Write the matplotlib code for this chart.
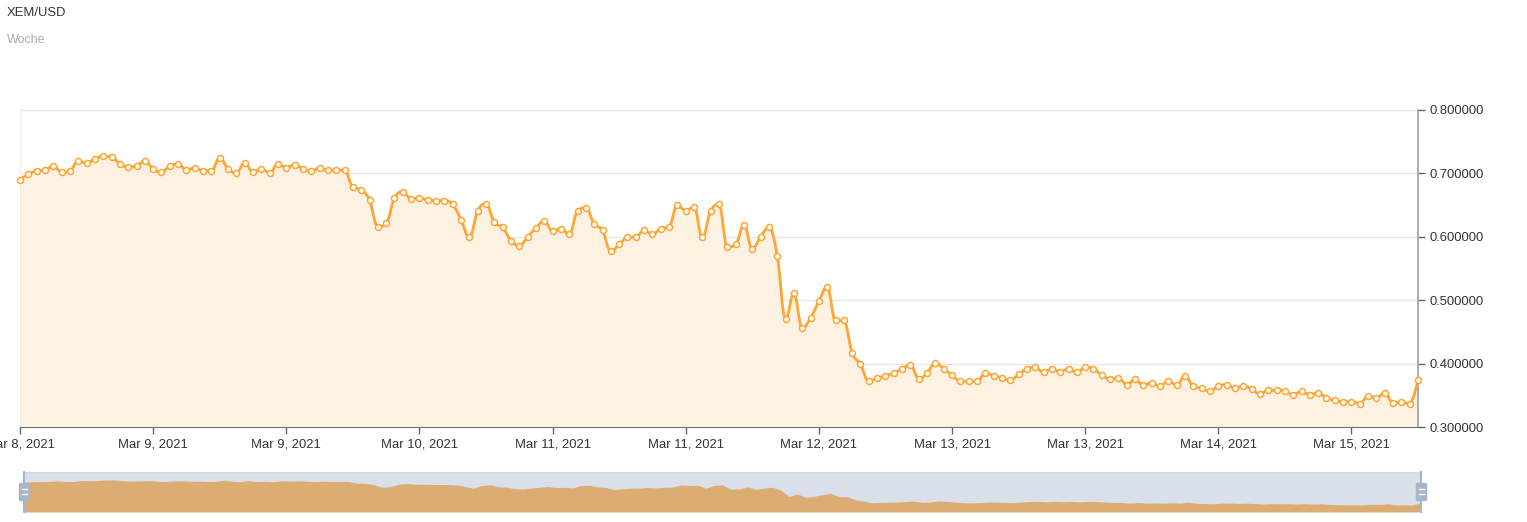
import matplotlib
matplotlib.use("Agg")
import matplotlib.pyplot as plt
from matplotlib.path import Path
from matplotlib.patches import PathPatch, Rectangle
import numpy as np

plt.rcParams['font.family'] = ['Liberation Sans', 'DejaVu Sans']

# hourly XEM/USD prices, one week
prices = [
    0.690, 0.699, 0.704, 0.705, 0.712, 0.702, 0.704, 0.720, 0.716, 0.723,
    0.727, 0.726, 0.715, 0.710, 0.712, 0.720, 0.707, 0.702, 0.712, 0.715,
    0.705, 0.709, 0.704, 0.704, 0.725, 0.707, 0.701, 0.717, 0.702, 0.707,
    0.701, 0.715, 0.709, 0.714, 0.707, 0.703, 0.709, 0.705, 0.705, 0.705,
    0.678, 0.674, 0.658, 0.616, 0.621, 0.661, 0.671, 0.660, 0.661, 0.658,
    0.657, 0.657, 0.651, 0.627, 0.599, 0.641, 0.652, 0.623, 0.615, 0.594,
    0.586, 0.600, 0.614, 0.625, 0.609, 0.613, 0.604, 0.641, 0.646, 0.620,
    0.610, 0.577, 0.588, 0.599, 0.600, 0.610, 0.604, 0.613, 0.616, 0.650,
    0.641, 0.647, 0.599, 0.641, 0.651, 0.584, 0.588, 0.619, 0.581, 0.600,
    0.615, 0.570, 0.470, 0.511, 0.456, 0.472, 0.498, 0.521, 0.468, 0.468,
    0.417, 0.399, 0.372, 0.377, 0.381, 0.385, 0.392, 0.398, 0.376, 0.385,
    0.401, 0.392, 0.382, 0.372, 0.372, 0.372, 0.385, 0.381, 0.378, 0.374,
    0.383, 0.392, 0.394, 0.386, 0.392, 0.387, 0.392, 0.386, 0.394, 0.392,
    0.382, 0.376, 0.377, 0.367, 0.375, 0.366, 0.370, 0.364, 0.373, 0.366,
    0.381, 0.364, 0.361, 0.356, 0.365, 0.367, 0.361, 0.365, 0.360, 0.352,
    0.358, 0.358, 0.356, 0.351, 0.356, 0.351, 0.354, 0.346, 0.342, 0.340,
    0.340, 0.337, 0.349, 0.346, 0.354, 0.338, 0.339, 0.337, 0.374,
]
hours = np.arange(len(prices))

tick_hours = [0, 16, 32, 48, 64, 80, 96, 112, 128, 144, 160]
tick_labels = ["Mar 8, 2021", "Mar 9, 2021", "Mar 9, 2021", "Mar 10, 2021",
               "Mar 11, 2021", "Mar 11, 2021", "Mar 12, 2021", "Mar 13, 2021",
               "Mar 13, 2021", "Mar 14, 2021", "Mar 15, 2021"]
y_ticks = [0.3, 0.4, 0.5, 0.6, 0.7, 0.8]

ORANGE = '#ffa534'
FILL = '#fdf1e2'


def spline_path(x, y, smoothing=1.5):
    # highcharts-style spline through the points
    n = len(x)
    left = [None] * n
    right = [None] * n
    d = smoothing + 1
    for i in range(n):
        if i == 0 or i == n - 1:
            left[i] = (x[i], y[i])
            right[i] = (x[i], y[i])
            continue
        lx = (smoothing * x[i] + x[i - 1]) / d
        ly = (smoothing * y[i] + y[i - 1]) / d
        rx = (smoothing * x[i] + x[i + 1]) / d
        ry = (smoothing * y[i] + y[i + 1]) / d
        if rx != lx:
            corr = (ry - ly) * (rx - x[i]) / (rx - lx) + y[i] - ry
            ly += corr
            ry += corr
        if ly > y[i - 1] and ly > y[i]:
            ly = max(y[i - 1], y[i]); ry = 2 * y[i] - ly
        elif ly < y[i - 1] and ly < y[i]:
            ly = min(y[i - 1], y[i]); ry = 2 * y[i] - ly
        if ry > y[i + 1] and ry > y[i]:
            ry = max(y[i + 1], y[i]); ly = 2 * y[i] - ry
        elif ry < y[i + 1] and ry < y[i]:
            ry = min(y[i + 1], y[i]); ly = 2 * y[i] - ry
        left[i] = (lx, ly)
        right[i] = (rx, ry)
    verts = [(x[0], y[0])]
    codes = [Path.MOVETO]
    for i in range(1, n):
        verts += [right[i - 1], left[i], (x[i], y[i])]
        codes += [Path.CURVE4] * 3
    return verts, codes


fig = plt.figure(figsize=(15.27, 5.22), dpi=100)
ax = fig.add_axes([20 / 1527, 1 - 427 / 522, 1398 / 1527, 317 / 522])
ax.set_xlim(0, len(prices) - 1)
ax.set_ylim(0.3, 0.8)

verts, codes = spline_path(list(hours.astype(float)), prices)
fill_verts = verts + [(hours[-1], 0.3), (hours[0], 0.3), verts[0]]
fill_codes = codes + [Path.LINETO, Path.LINETO, Path.CLOSEPOLY]
ax.add_patch(PathPatch(Path(fill_verts, fill_codes), facecolor=FILL,
                       edgecolor='none', zorder=1))
ax.add_patch(PathPatch(Path(verts, codes), facecolor='none', edgecolor=ORANGE,
                       lw=2.0, zorder=3, capstyle='round', joinstyle='round'))
ax.plot(hours, prices, linestyle='none', marker='o', markersize=4.3,
        markerfacecolor='white', markeredgecolor=ORANGE, markeredgewidth=1.1,
        zorder=4, clip_on=False)

ax.grid(axis='y', color='#e6e6e6', linewidth=1, zorder=0)
ax.set_axisbelow(True)
ax.yaxis.tick_right()
ax.set_yticks(y_ticks)
ax.set_yticklabels([f'{v:.6f}' for v in y_ticks])
ax.set_xticks(tick_hours)
ax.set_xticklabels(tick_labels)
ax.tick_params(axis='both', colors='#666666', labelcolor='#333333',
               labelsize=9.4, length=5, width=1, direction='out', pad=3)
ax.spines['top'].set_visible(False)
ax.spines['left'].set_color('#f3ebe0')
ax.spines['right'].set_color('#a0a0a0')
ax.spines['bottom'].set_color('#707070')
ax.spines['right'].set_linewidth(1.2)

fig.text(7 / 1527, 1 - 13 / 522, 'XEM/USD', fontsize=9.4, color='#333333',
         va='center', ha='left')
fig.text(7 / 1527, 1 - 40 / 522, 'Woche', fontsize=9, color='#aaaaaa',
         va='center', ha='left')

# navigator
nav_lo, nav_hi = 0.228, 0.852
nav = fig.add_axes([24 / 1527, 1 - 512 / 522, 1397 / 1527, 40 / 522])
nav.set_facecolor('#dae0ea')
nav.set_xlim(0, len(prices) - 1)
nav.set_ylim(nav_lo, nav_hi)
nav.fill_between(hours, prices, nav_lo, color='#dcad72', linewidth=0)
nav.set_xticks([])
nav.set_yticks([])
for s in ['left', 'right', 'bottom']:
    nav.spines[s].set_visible(False)
nav.spines['top'].set_color('#d5d9e0')

for hx in [24, 1421]:
    fig.add_artist(plt.Line2D([hx / 1527, hx / 1527], [1 - 512 / 522, 1 - 472 / 522],
                              color='#a9b5c8', lw=1.5))
    fig.add_artist(Rectangle(((hx - 5) / 1527, 1 - 500 / 522), 10 / 1527, 17 / 522,
                             facecolor='#a9b5c8', edgecolor='#a9b5c8'))
    for ly in [489, 494]:
        fig.add_artist(plt.Line2D([(hx - 2.5) / 1527, (hx + 2.5) / 1527],
                                  [1 - ly / 522, 1 - ly / 522], color='white', lw=1))

fig.savefig('out.png', dpi=100)
